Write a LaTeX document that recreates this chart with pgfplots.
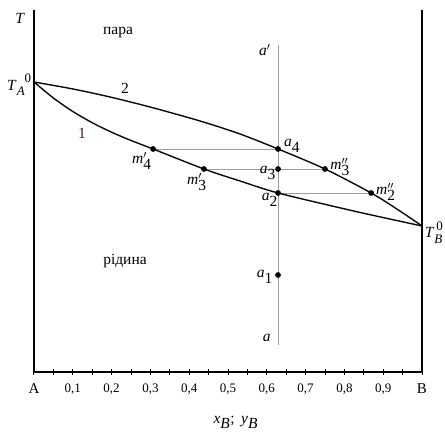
\documentclass[border=0pt]{standalone}
\usepackage{fontspec}
\setmainfont{Liberation Serif}
\usepackage{pgfplots}
\pgfplotsset{compat=1.18}
\newcommand{\lbl}{\fontsize{15.5}{17}\selectfont}
\newcommand{\ml}[3]{\lbl$\textit{#1}^{#2}_{\textrm{#3}}$}
\newcommand{\sm}{\fontsize{13}{14}\selectfont}
\definecolor{curvecol}{RGB}{10,10,10}
\definecolor{numcol}{RGB}{70,35,25}
\begin{document}
\begin{tikzpicture}[x=1pt,y=1pt]
\useasboundingbox (-34pt,-61pt) rectangle (411pt,372pt);
\begin{axis}[
  at={(0,0)}, anchor=south west,
  scale only axis, width=388pt, height=362pt,
  xmin=0, xmax=1, ymin=0, ymax=362,
  axis x line=bottom, axis y line=box,
  axis line style={-, line width=1.4pt},
  ytick=\empty,
  xtick={0,0.1,0.2,0.3,0.4,0.5,0.6,0.7,0.8,0.9,1},
  xticklabels={{\fontsize{15}{16}\selectfont A},{0,1},{0,2},{0,3},{0,4},{0,5},{0,6},{0,7},{0,8},{0,9},{\fontsize{15}{16}\selectfont B}},
  minor xtick={0.05,0.15,0.25,0.35,0.45,0.55,0.65,0.75,0.85,0.95},
  tick align=center, major tick length=6pt, minor tick length=6pt,
  every tick/.style={black, line width=1pt},
  xticklabel style={font=\fontsize{13}{14}\selectfont, yshift=-5pt},
  clip=false,
]
% vertical isopleth
\addplot[gray!75, line width=0.8pt] coordinates {(0.629,27) (0.629,327)};
% tie lines
\addplot[gray!75, line width=0.6pt] coordinates {(0.307,223) (0.629,223)};
\addplot[gray!75, line width=0.6pt] coordinates {(0.438,203) (0.750,203)};
\addplot[gray!75, line width=0.6pt] coordinates {(0.629,179) (0.869,179)};
% curve 2 (vapour)
\addplot[curvecol, line width=1.4pt, smooth] coordinates {
 (0,290) (0.1005,283) (0.196,275) (0.299,265) (0.428,251) (0.531,238)
 (0.629,223) (0.750,203) (0.869,179) (0.943,161) (1,146)};
% curve 1 (liquid)
\addplot[curvecol, line width=1.4pt, smooth] coordinates {
 (0,290) (0.05,274) (0.1,260.5) (0.15,249.3) (0.2,239.8) (0.25,231.5)
 (0.307,223) (0.438,203) (0.531,191) (0.629,179) (0.807,162.5) (0.905,154) (1,146)};
% points
\addplot[only marks, mark=*, mark size=2.6pt, black] coordinates {
 (0.629,223) (0.629,203) (0.629,179) (0.629,97)
 (0.307,223) (0.438,203) (0.750,203) (0.869,179)};
% labels
\node at (axis cs:-0.036,354) {\lbl\textit{T}};
\node[anchor=east, inner sep=1pt] at (axis cs:-0.004,287) {\lbl\textit{T}\raisebox{-0.8ex}{\sm\textit{A}}\raisebox{1.0ex}{\sm 0}};
\node[anchor=west, inner sep=1pt] at (axis cs:1.004,139) {\lbl\textit{T}\rlap{\raisebox{1.0ex}{\sm\,0}}\raisebox{-0.85ex}{\sm\textit{B}}};
\node at (axis cs:0.2165,339) {\lbl пара};
\node at (axis cs:0.2345,111) {\lbl рідина};
\node[numcol] at (axis cs:0.124,239) {\lbl 1};
\node at (axis cs:0.2345,284) {\lbl 2};
\node at (axis cs:0.665,226) {\ml{a}{}{4}};
\node at (axis cs:0.603,199) {\ml{a}{}{3}};
\node at (axis cs:0.608,172) {\ml{a}{}{2}};
\node at (axis cs:0.595,95) {\ml{a}{}{1}};
\node at (axis cs:0.600,34) {\lbl$\textit{a}$};
\node at (axis cs:0.595,322) {\lbl$\textit{a}'$};
\node at (axis cs:0.278,211) {\ml{m}{\prime}{4}};
\node at (axis cs:0.420,190) {\ml{m}{\prime}{3}};
\node at (axis cs:0.789,205) {\ml{m}{\prime\prime}{3}};
\node at (axis cs:0.907,180) {\ml{m}{\prime\prime}{2}};
\node at (axis cs:0.52,-50) {\lbl$\textit{x}_{\textit{B}}$;\ \,$\textit{y}_{\textit{B}}$};
\end{axis}
\end{tikzpicture}
\end{document}
